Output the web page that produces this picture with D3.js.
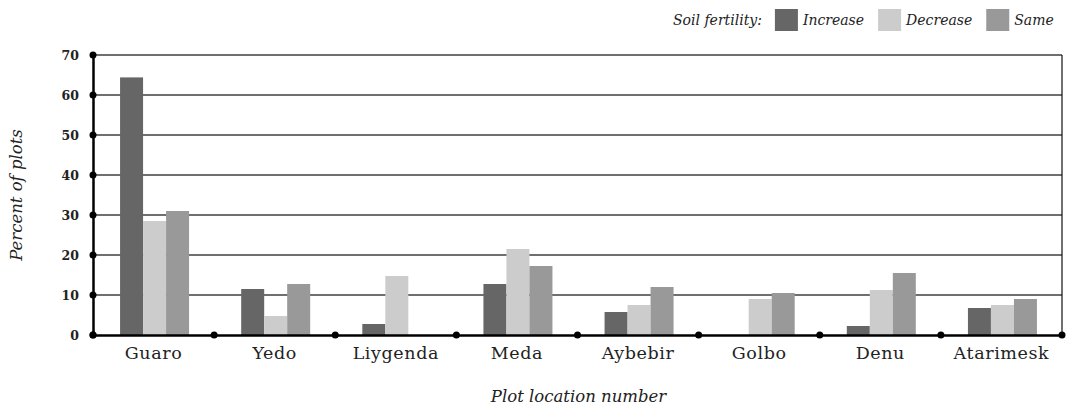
<!DOCTYPE html>
<html lang="en">
<head>
    <meta charset="UTF-8">
    <title>Soil fertility</title>
    <script src="https://d3js.org/d3.v7.min.js"></script>
</head>
<style>
    html,body {
        margin: 0;
        padding: 0;
        background: #fff;
    }
    text { font-family: "DejaVu Serif", serif; fill: #222; }
</style>
<body>
    <div id="svg"></div>
</body>
<script>
    // data
    const locations = ['Guaro', 'Yedo', 'Liygenda', 'Meda', 'Aybebir', 'Golbo', 'Denu', 'Atarimesk'];
    const series = ['Increase', 'Decrease', 'Same'];
    const increase = [64.4, 11.5, 2.75, 12.75, 5.75, 0, 2.25, 6.75];
    const decrease = [28.5, 4.75, 14.75, 21.5, 7.5, 9, 11.25, 7.5];
    const same = [31, 12.75, 0, 17.25, 12, 10.5, 15.5, 9];
    const yTicks = [0, 10, 20, 30, 40, 50, 60, 70];
    const colors = ['#666666', '#cccccc', '#999999'];

    const values = [increase, decrease, same];
    const rows = locations.map((loc, i) => ({ loc, vals: series.map((s, k) => ({ s, k, v: values[k][i] })) }));

    const W = 1067, H = 412;
    const m = { left: 93, right: 5, top: 55, bottom: 77 };

    const svg = d3.select('#svg').append('svg')
        .attr('width', W)
        .attr('height', H);

    const x = d3.scaleBand().domain(locations).range([m.left, W - m.right]);
    const x1 = d3.scaleBand().domain(series).range([0, 69]);
    const y = d3.scaleLinear().domain([0, 70]).range([H - m.bottom, m.top]);

    // gridlines
    svg.append('g')
        .selectAll('line')
        .data(yTicks.filter(d => d > 0))
        .enter()
        .append('line')
        .attr('x1', m.left).attr('x2', W - m.right)
        .attr('y1', d => y(d)).attr('y2', d => y(d))
        .attr('stroke', '#3f3f3f')
        .attr('stroke-width', 1.7);

    // right border
    svg.append('line')
        .attr('x1', W - m.right).attr('x2', W - m.right)
        .attr('y1', y(70)).attr('y2', y(0))
        .attr('stroke', '#111').attr('stroke-width', 1.2);

    // bars
    const groups = svg.append('g')
        .selectAll('g')
        .data(rows)
        .enter()
        .append('g')
        .attr('transform', d => `translate(${x(d.loc) + x.bandwidth() / 2 - 33.5},0)`);

    groups.selectAll('rect')
        .data(d => d.vals)
        .enter()
        .append('rect')
        .attr('x', d => x1(d.s))
        .attr('width', x1.bandwidth())
        .attr('y', d => y(d.v))
        .attr('height', d => y(0) - y(d.v))
        .attr('fill', d => colors[d.k]);

    // y axis
    const yAxis = svg.append('g')
        .attr('transform', `translate(${m.left},0)`)
        .call(d3.axisLeft(y).tickValues(yTicks).tickSize(0).tickPadding(14));
    yAxis.select('.domain').attr('stroke', '#000').attr('stroke-width', 2.5);
    yAxis.selectAll('text')
        .style('font-family', '"DejaVu Serif", serif')
        .style('font-weight', 'bold')
        .style('font-size', '12.5px')
        .attr('fill', '#222');

    svg.append('g')
        .selectAll('circle')
        .data(yTicks)
        .enter()
        .append('circle')
        .attr('cx', m.left).attr('cy', d => y(d)).attr('r', 3.5)
        .attr('fill', '#000');

    // x axis
    const xAxis = svg.append('g')
        .attr('transform', `translate(0,${y(0)})`)
        .call(d3.axisBottom(x).tickSize(0).tickPadding(12));
    xAxis.select('.domain').attr('stroke', '#000').attr('stroke-width', 2.5);
    xAxis.selectAll('text')
        .style('font-family', '"DejaVu Serif", serif')
        .style('font-size', '17.5px')
        .style('letter-spacing', '0.6px')
        .attr('fill', '#222');

    const bounds = x.domain().map(d => x(d)).concat([x.range()[1]]);
    svg.append('g')
        .selectAll('circle')
        .data(bounds)
        .enter()
        .append('circle')
        .attr('cx', d => d).attr('cy', y(0)).attr('r', 3.5)
        .attr('fill', '#000');

    // axis titles
    svg.append('text')
        .attr('transform', `translate(22,${(y(0) + y(70)) / 2}) rotate(-90)`)
        .attr('text-anchor', 'middle')
        .style('font-style', 'italic')
        .style('font-size', '16.5px')
        .text('Percent of plots');

    svg.append('text')
        .attr('x', (m.left + W - m.right) / 2 + 1)
        .attr('y', 402)
        .attr('text-anchor', 'middle')
        .style('font-style', 'italic')
        .style('font-size', '16.5px')
        .text('Plot location number');

    // legend
    const legend = svg.append('g');
    const lt = legend.append('text')
        .attr('x', 673).attr('y', 25)
        .style('font-style', 'italic')
        .style('font-size', '14px')
        .text('Soil fertility:');
    let lx = 673 + lt.node().getComputedTextLength() + 13;
    series.forEach((s, k) => {
        legend.append('rect')
            .attr('x', lx).attr('y', 9)
            .attr('width', 23).attr('height', 22)
            .attr('fill', colors[k]);
        const t = legend.append('text')
            .attr('x', lx + 28).attr('y', 25)
            .style('font-style', 'italic')
            .style('font-size', '14px')
            .text(s);
        lx += 28 + t.node().getComputedTextLength() + 14;
    });
</script>
</html>
